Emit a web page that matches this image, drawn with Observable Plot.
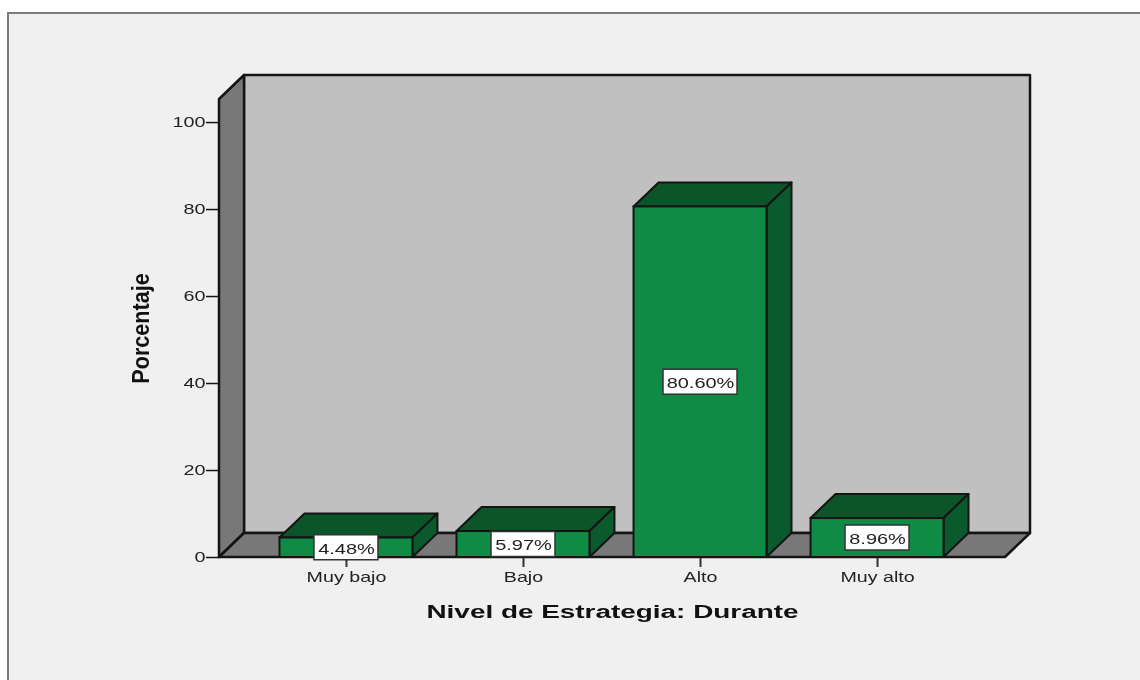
<!DOCTYPE html>
<html>
<head>
<meta charset="utf-8">
<script src="https://cdn.jsdelivr.net/npm/d3@7"></script>
<script src="https://cdn.jsdelivr.net/npm/@observablehq/plot@0.6"></script>
<style>
  html, body { margin: 0; background: #fff; width: 1140px; height: 680px; overflow: hidden; }
  #panel { position: absolute; left: 7px; top: 12px; right: 0; bottom: 0; background: #f0f0f0; border-left: 2px solid #7c7c7c; border-top: 2px solid #7c7c7c; }
  #chart { position: absolute; left: 0; top: 0; filter: blur(0.4px); }
</style>
</head>
<body>
<div id="panel"></div>
<div id="chart"></div>
<script>
const categories = ["Muy bajo", "Bajo", "Alto", "Muy alto"];
const percentages = [4.48, 5.97, 80.60, 8.96];
const yTicks = [0, 20, 40, 60, 80, 100];
const yMax = 105.3;
const xTitle = "Nivel de Estrategia: Durante";
const yTitle = "Porcentaje";

const rows = categories.map((c, i) => ({category: c, value: percentages[i], label: percentages[i].toFixed(2) + "%"}));

const depthX = 25, depthY = 24;
const ink = "#141414";
const colors = {front: "#0f8b46", top: "#0b5528", side: "#0a5a2d", wall: "#c0c0c0", shade: "#787878"};

function polygon(g, pts, fill, sw = 2) {
  g.append("polygon").attr("points", pts.map(p => p.join(",")).join(" "))
    .attr("fill", fill).attr("stroke", ink).attr("stroke-width", sw).attr("stroke-linejoin", "round");
}

function room(index, {y}, values, dims) {
  const g = d3.create("svg:g");
  const L = dims.marginLeft, R = dims.width - dims.marginRight;
  const y0 = y(0), yT = y(yMax);
  polygon(g, [[L + depthX, yT - depthY], [R + depthX, yT - depthY], [R + depthX, y0 - depthY], [L + depthX, y0 - depthY]], colors.wall, 2.5);
  polygon(g, [[L, y0], [L + depthX, y0 - depthY], [L + depthX, yT - depthY], [L, yT]], colors.shade, 2.5);
  polygon(g, [[L, y0], [L + depthX, y0 - depthY], [R + depthX, y0 - depthY], [R, y0]], colors.shade, 2.5);
  return g.node();
}

function barSides(index, {x, y}) {
  const g = d3.create("svg:g");
  const w = x.bandwidth();
  for (const r of rows) {
    const a = x(r.category), b = a + w, t = y(r.value), y0 = y(0);
    polygon(g, [[a, t], [a + depthX, t - depthY], [b + depthX, t - depthY], [b, t]], colors.top);
    polygon(g, [[b, t], [b + depthX, t - depthY], [b + depthX, y0 - depthY], [b, y0]], colors.side);
  }
  return g.node();
}

function labelBoxes(index, {x, y}) {
  const g = d3.create("svg:g");
  for (const r of rows) {
    const w = r.label.length * 10 + 14, h = 25;
    g.append("rect")
      .attr("x", x(r.category) + x.bandwidth() / 2 - w / 2)
      .attr("y", y(r.value / 2) - h / 2)
      .attr("width", w).attr("height", h)
      .attr("fill", "#fff").attr("stroke", "#333").attr("stroke-width", 1.5);
  }
  return g.node();
}

const plot = Plot.plot({
  width: 1140,
  height: 680,
  marginLeft: 219,
  marginRight: 135,
  marginTop: 99,
  marginBottom: 123,
  style: {background: "transparent", fontFamily: "Liberation Sans, Arial, sans-serif", color: "#222"},
  x: {domain: categories, range: [279.5, 943.5], paddingInner: 0.249, paddingOuter: 0, round: false, label: null},
  y: {domain: [0, yMax], label: null},
  marks: [
    room,
    Plot.axisY({ticks: yTicks, tickSize: 13, tickPadding: 1, tickFormat: d => d, fontSize: 15, stroke: ink, strokeWidth: 1.5, label: null, className: "tick-y"}),
    Plot.axisX({tickSize: 10, tickPadding: 4, fontSize: 15, stroke: "#333", strokeWidth: 2, label: null, className: "tick-x"}),
    barSides,
    Plot.barY(rows, {x: "category", y: "value", fill: colors.front, stroke: ink, strokeWidth: 2}),
    labelBoxes,
    Plot.text(rows, {x: "category", y: d => d.value / 2, dy: 1, text: "label", fontSize: 15, fill: "#222", className: "bar-label"}),
    Plot.text([xTitle], {frameAnchor: "bottom", dy: 60, fontSize: 18, fontWeight: "bold", fill: "#111", className: "title-x"}),
    Plot.text([yTitle], {frameAnchor: "left", dx: -78, rotate: -90, textAnchor: "middle", fontSize: 24, fontWeight: "bold", fill: "#111", className: "title-y"})
  ]
});
document.getElementById("chart").append(plot);

const stretches = [[".tick-y", 1.32], [".tick-x", 1.31], [".bar-label", 1.33], [".title-x", 1.55], [".title-y", 0.9]];
for (const [sel, k] of stretches) {
  plot.querySelectorAll(sel + " text, text" + sel).forEach(t => {
    t.setAttribute("textLength", t.getComputedTextLength() * k);
    t.setAttribute("lengthAdjust", "spacingAndGlyphs");
  });
}
</script>
</body>
</html>
